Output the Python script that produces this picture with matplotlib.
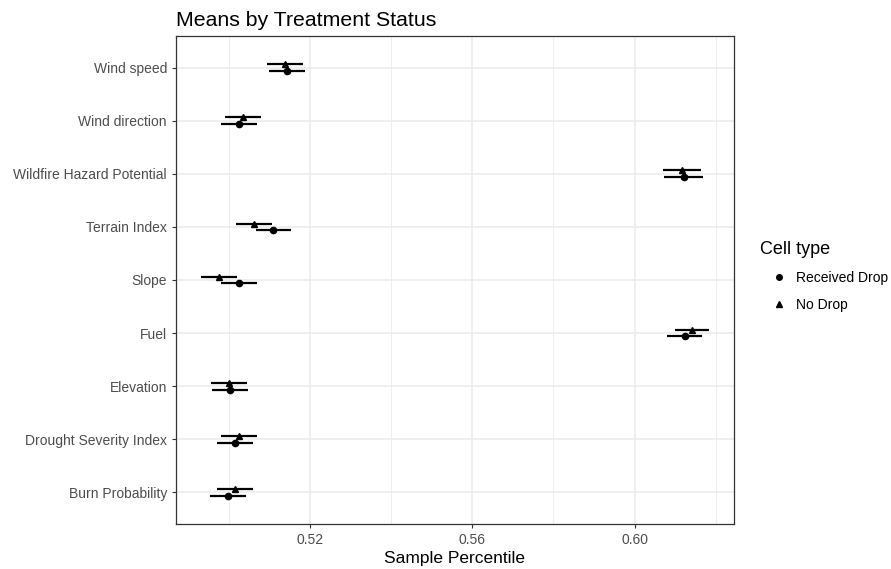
import numpy as np
import matplotlib.pyplot as plt

plt.rcParams["font.family"] = ["Liberation Sans", "DejaVu Sans"]

# Mean sample percentile and half-width of the interval, per feature
features = [
    "Wind speed",
    "Wind direction",
    "Wildfire Hazard Potential",
    "Terrain Index",
    "Slope",
    "Fuel",
    "Elevation",
    "Drought Severity Index",
    "Burn Probability",
]
drop_mean = [0.5143, 0.5025, 0.6121, 0.5110, 0.5025, 0.6123, 0.5003, 0.5015, 0.4999]
drop_err = [0.0044, 0.0044, 0.0048, 0.0043, 0.0044, 0.0043, 0.0044, 0.0044, 0.0044]
nodrop_mean = [0.5139, 0.5035, 0.6116, 0.5063, 0.4977, 0.6140, 0.5001, 0.5026, 0.5015]
nodrop_err = [0.0044, 0.0045, 0.0047, 0.0044, 0.0044, 0.0042, 0.0044, 0.0044, 0.0044]
x_ticks = [0.52, 0.56, 0.60]

W, H = 891, 569
fig = plt.figure(figsize=(W / 100, H / 100), dpi=100)
left, right, top, bottom = 176, 734, 36, 524
ax = fig.add_axes([left / W, 1 - bottom / H, (right - left) / W, (bottom - top) / H])

n = len(features)
y = np.arange(n)[::-1].astype(float)
dodge = 0.065

dm, de = np.array(drop_mean), np.array(drop_err)
nm, ne = np.array(nodrop_mean), np.array(nodrop_err)

ax.hlines(y - dodge, dm - de, dm + de, color="black", lw=1.6, zorder=3)
ax.hlines(y + dodge, nm - ne, nm + ne, color="black", lw=1.6, zorder=3)
ax.plot(dm, y - dodge, "o", color="black", ms=4.5, zorder=4, label="Received Drop")
ax.plot(nm, y + dodge, "^", color="black", ms=5, zorder=4, label="No Drop")

# ggplot-like expansion of the data range
lo = min((dm - de).min(), (nm - ne).min())
hi = max((dm + de).max(), (nm + ne).max())
pad = 0.05 * (hi - lo)
ax.set_xlim(lo - pad, hi + pad)
ax.set_ylim(-0.6, n - 0.4)

ax.set_xticks(x_ticks)
ax.set_xticklabels([f"{t:.2f}" for t in x_ticks])
ax.set_xticks(np.arange(0.50, 0.63, 0.04), minor=True)
ax.set_yticks(y)
ax.set_yticklabels(features)
ax.tick_params(axis="both", which="major", labelsize=10, labelcolor="#4D4D4D",
               color="#333333", length=3, width=0.8)
ax.tick_params(axis="x", which="minor", length=0)

ax.grid(True, which="major", color="#EBEBEB", lw=1.1, zorder=0)
ax.grid(True, which="minor", axis="x", color="#EBEBEB", lw=0.6, zorder=0)
ax.set_axisbelow(True)
for s in ax.spines.values():
    s.set_color("#333333")
    s.set_linewidth(0.9)

ax.set_xlabel("Sample Percentile", fontsize=12.5, color="black", labelpad=3)
ax.set_title("Means by Treatment Status", fontsize=15.3, loc="left", pad=7)

leg = fig.legend(
    loc="upper left",
    bbox_to_anchor=(747 / W, 1 - 229 / H),
    title="Cell type",
    frameon=False,
    fontsize=10,
    title_fontsize=13,
    handlelength=2.8,
    handletextpad=-0.2,
    labelspacing=0.9,
)
leg._legend_box.align = "left"
for h in leg.legend_handles:
    h.set_markersize(4)

fig.savefig("out.png", dpi=100)
